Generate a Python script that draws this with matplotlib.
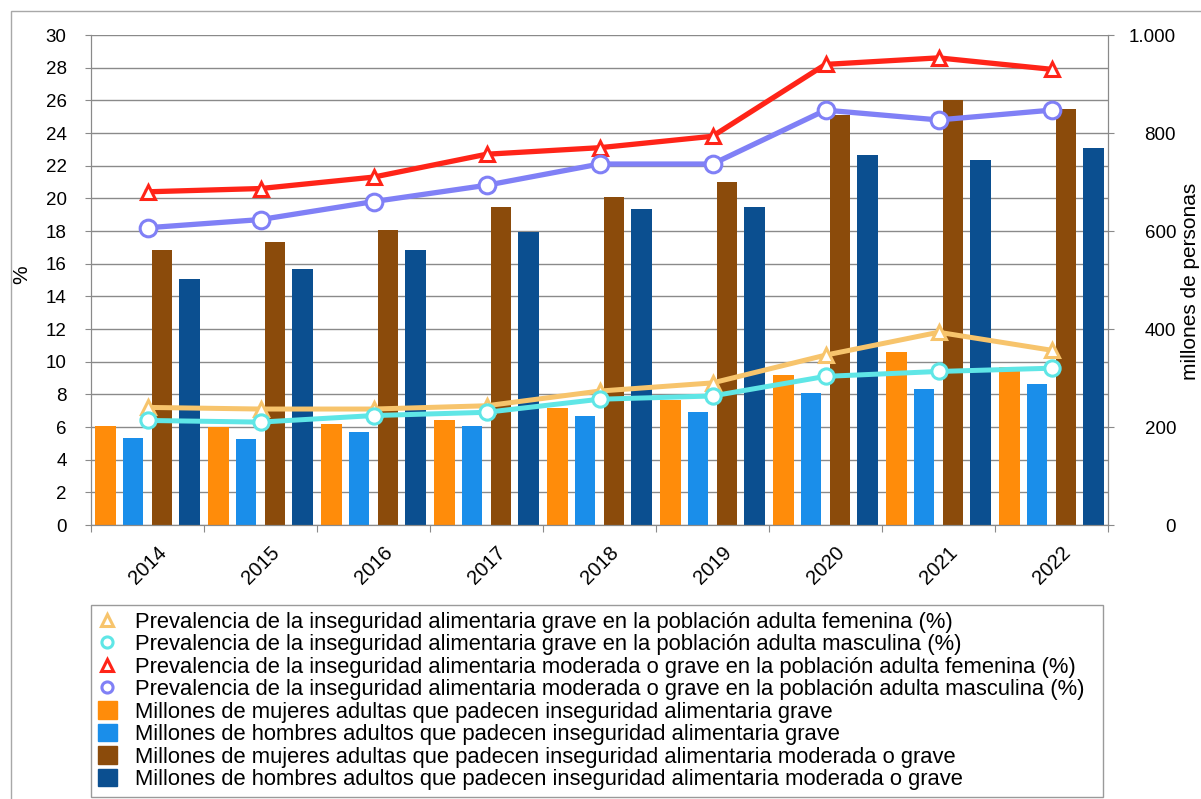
import matplotlib
matplotlib.use("Agg")
import matplotlib.pyplot as plt
from matplotlib.lines import Line2D
from matplotlib.patches import Patch, Rectangle
from matplotlib.ticker import MultipleLocator, FuncFormatter
import numpy as np

plt.rcParams["font.family"] = ["Liberation Sans", "DejaVu Sans"]

years = ["2014", "2015", "2016", "2017", "2018", "2019", "2020", "2021", "2022"]

# prevalencia (%), eje izquierdo
grave_fem_pct = [7.2, 7.1, 7.1, 7.3, 8.2, 8.7, 10.4, 11.8, 10.7]
grave_masc_pct = [6.4, 6.3, 6.7, 6.9, 7.7, 7.9, 9.1, 9.4, 9.6]
mod_fem_pct = [20.4, 20.6, 21.3, 22.7, 23.1, 23.8, 28.2, 28.6, 27.9]
mod_masc_pct = [18.2, 18.7, 19.8, 20.8, 22.1, 22.1, 25.4, 24.8, 25.4]

# millones de personas, eje derecho
grave_mujeres = [202, 199, 206, 214, 239, 255, 306, 353, 323]
grave_hombres = [178, 175, 190, 203, 223, 231, 269, 277, 287]
mod_mujeres = [561, 578, 603, 650, 670, 699, 837, 867, 850]
mod_hombres = [502, 522, 561, 597, 645, 650, 755, 745, 770]

labels = [
    "Prevalencia de la inseguridad alimentaria grave en la población adulta femenina (%)",
    "Prevalencia de la inseguridad alimentaria grave en la población adulta masculina (%)",
    "Prevalencia de la inseguridad alimentaria moderada o grave en la población adulta femenina (%)",
    "Prevalencia de la inseguridad alimentaria moderada o grave en la población adulta masculina (%)",
    "Millones de mujeres adultas que padecen inseguridad alimentaria grave",
    "Millones de hombres adultos que padecen inseguridad alimentaria grave",
    "Millones de mujeres adultas que padecen inseguridad alimentaria moderada o grave",
    "Millones de hombres adultos que padecen inseguridad alimentaria moderada o grave",
]

c_gfem, c_gmasc, c_mfem, c_mmasc = "#f7c46c", "#5fe6e6", "#ff2418", "#8080f6"
c_bar = ["#ff8c0a", "#1a8eea", "#8b4b0b", "#0b4f90"]
grid_c = "#8a8a8a"

W, H = 1201, 799
fig = plt.figure(figsize=(W / 100, H / 100), dpi=100)
rect = [91 / W, 1 - 525 / H, (1108 - 91) / W, (525 - 35) / H]
ax = fig.add_axes(rect)
ax2 = ax.twinx()
ax.set_zorder(2)
ax2.set_zorder(1)
ax.patch.set_visible(False)

x = np.arange(len(years))

# barras (eje derecho)
offsets = [-0.372, -0.128, 0.128, 0.372]
series = [grave_mujeres, grave_hombres, mod_mujeres, mod_hombres]
for off, vals, col in zip(offsets, series, c_bar):
    ax2.bar(x + off, vals, width=0.178, color=col, zorder=2)

ax2.set_ylim(0, 1000)
ax2.yaxis.set_major_locator(MultipleLocator(200))
ax2.yaxis.set_minor_locator(MultipleLocator(1000 / 15))
ax2.yaxis.set_major_formatter(FuncFormatter(lambda v, p: f"{int(v):,}".replace(",", ".")))
ax2.set_axisbelow(True)
ax2.grid(axis="y", which="both", color=grid_c, lw=1)
ax2.tick_params(axis="y", which="major", length=4, color=grid_c, pad=45, labelsize=13.5)
ax2.tick_params(axis="y", which="minor", length=0)
for t in ax2.get_yticklabels():
    t.set_ha("right")

# lineas (eje izquierdo)
ax.plot(x, grave_fem_pct, color=c_gfem, lw=3.6, marker="^", ms=10, mfc="white", mec=c_gfem, mew=2.2)
ax.plot(x, grave_masc_pct, color=c_gmasc, lw=3.6, marker="o", ms=11, mfc="white", mec=c_gmasc, mew=2.2)
ax.plot(x, mod_fem_pct, color=c_mfem, lw=3.8, marker="^", ms=10, mfc="white", mec=c_mfem, mew=2.2)
ax.plot(x, mod_masc_pct, color=c_mmasc, lw=3.8, marker="o", ms=12, mfc="white", mec=c_mmasc, mew=2.2)

ax.set_ylim(0, 30)
ax.set_xlim(-0.5, len(years) - 0.5)
ax.yaxis.set_major_locator(MultipleLocator(2))
ax.tick_params(axis="y", length=4, color=grid_c, pad=13.5, labelsize=13.5)
ax.set_xticks(np.arange(-0.5, len(years), 1))
ax.set_xticklabels([])
ax.set_xticks(x, minor=True)
ax.set_xticklabels(years, minor=True, rotation=45, ha="center", fontsize=14.5)
ax.tick_params(axis="x", which="major", length=5, color=grid_c)
ax.tick_params(axis="x", which="minor", length=0, pad=13)

for a in (ax, ax2):
    a.spines["top"].set_visible(False)
    for s in ("left", "right", "bottom"):
        a.spines[s].set_color(grid_c)

fig.text(22 / W, 1 - 275 / H, "%", rotation=90, ha="center", va="center", fontsize=15)
fig.text(1190 / W, 1 - 281 / H, "millones de personas", rotation=90, ha="center", va="center", fontsize=15)

# marco exterior
fig.patches.append(Rectangle((11 / W, -0.1), 1.2, 1.1 - 11 / H, transform=fig.transFigure,
                             fill=False, ec="#a8a8a8", lw=1))

handles = [
    Line2D([], [], ls="none", marker="^", ms=8, mfc="white", mec=c_gfem, mew=2.2),
    Line2D([], [], ls="none", marker="o", ms=8, mfc="white", mec=c_gmasc, mew=2.2),
    Line2D([], [], ls="none", marker="^", ms=8, mfc="white", mec=c_mfem, mew=2.2),
    Line2D([], [], ls="none", marker="o", ms=8, mfc="white", mec=c_mmasc, mew=2.2),
] + [Patch(color=c) for c in c_bar]

leg = fig.legend(handles, labels, loc="upper left",
                 bbox_to_anchor=(91 / W, 1 - 605 / H, (1103 - 91) / W, 0), mode="expand",
                 fontsize=15.8, fancybox=False, edgecolor="#9a9a9a", framealpha=1,
                 borderpad=0.3, labelspacing=0.05, handlelength=0.9, handleheight=0.85,
                 handletextpad=0.8, borderaxespad=0)
leg.get_frame().set_linewidth(1)

fig.savefig("out.png", dpi=100)
